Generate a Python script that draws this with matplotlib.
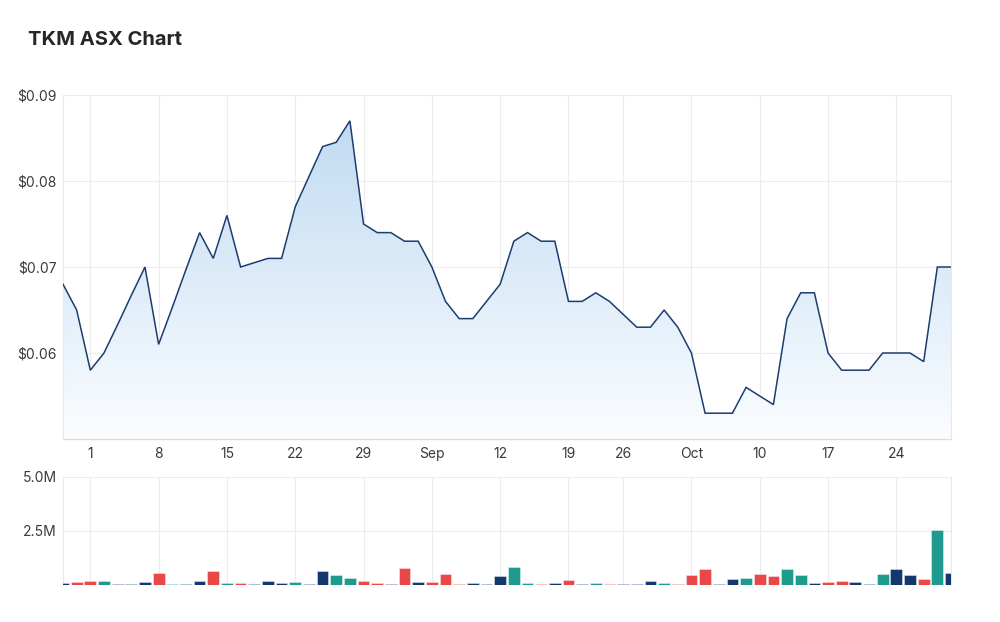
import numpy as np
import pandas as pd
import matplotlib
matplotlib.use("Agg")
import matplotlib.pyplot as plt
from matplotlib.colors import LinearSegmentedColormap

plt.rcParams['font.family'] = ['Inter', 'DejaVu Sans']

# ---- data ----
dates = pd.bdate_range('2022-07-28', '2022-10-28').drop(pd.Timestamp('2022-09-22'))

prices = [0.068, 0.065, 0.058, 0.060, 0.0633, 0.0667, 0.070, 0.061, 0.0653, 0.0697,
          0.074, 0.071, 0.076, 0.070, 0.0705, 0.071, 0.071, 0.077, 0.0805, 0.084,
          0.0845, 0.087, 0.075, 0.074, 0.074, 0.073, 0.073, 0.070, 0.066, 0.064,
          0.064, 0.066, 0.068, 0.073, 0.074, 0.073, 0.073, 0.066, 0.066, 0.067,
          0.066, 0.0645, 0.063, 0.063, 0.065, 0.063, 0.060, 0.053, 0.053, 0.053,
          0.056, 0.055, 0.054, 0.064, 0.067, 0.067, 0.060, 0.058, 0.058, 0.058,
          0.060, 0.060, 0.060, 0.059, 0.070, 0.070]

volumes_m = [0.09, 0.14, 0.20, 0.20, 0.03, 0.03, 0.14, 0.54, 0.03, 0.03,
             0.20, 0.65, 0.09, 0.09, 0.03, 0.20, 0.10, 0.14, 0.03, 0.65,
             0.45, 0.34, 0.20, 0.10, 0.04, 0.80, 0.14, 0.14, 0.50, 0.03,
             0.09, 0.04, 0.40, 0.83, 0.09, 0.03, 0.09, 0.25, 0.04, 0.09,
             0.04, 0.04, 0.04, 0.20, 0.09, 0.04, 0.45, 0.72, 0.04, 0.30,
             0.34, 0.50, 0.40, 0.72, 0.45, 0.09, 0.14, 0.18, 0.14, 0.04,
             0.50, 0.74, 0.45, 0.30, 2.53, 0.54]

volume_kind = list("nrrtnnnrtnnrtrnnntnnttrrnrnrrrnnnttrnrntrnnntrrrnntrrttnrrnntnnrtn")

tick_dates = ['2022-08-01', '2022-08-08', '2022-08-15', '2022-08-22', '2022-08-29',
              '2022-09-05', '2022-09-12', '2022-09-19', '2022-09-26', '2022-10-03',
              '2022-10-10', '2022-10-17', '2022-10-24']
tick_labels = ['1', '8', '15', '22', '29', 'Sep', '12', '19', '26', 'Oct', '10', '17', '24']

price_ticks = [0.06, 0.07, 0.08, 0.09]
price_tick_labels = ['$0.06', '$0.07', '$0.08', '$0.09']
vol_ticks = [2.5, 5.0]
vol_tick_labels = ['2.5M', '5.0M']

assert len(prices) == len(dates) == len(volumes_m) == len(volume_kind)

# ---- style ----
LINE = '#1d3d6e'
GRID = '#ececec'
TXT = '#3a3a3a'
KIND_COLORS = {'r': '#e84848', 't': '#1f9a8e', 'n': '#14386d'}

x = np.arange(len(dates))
tick_pos = dates.get_indexer(pd.to_datetime(tick_dates))

fig = plt.figure(figsize=(10, 6.22), dpi=100)
W, H = 1000, 622
ax = fig.add_axes([63 / W, 1 - 439 / H, (951 - 63) / W, (439 - 95) / H])
axv = fig.add_axes([63 / W, 1 - 585 / H, (951 - 63) / W, (585 - 477) / H])

# price panel
ax.set_xlim(0, len(dates) - 1)
ax.set_ylim(0.05, 0.09)
poly = ax.fill_between(x, prices, 0.05, color='none', lw=0)
cmap = LinearSegmentedColormap.from_list('g', ['#fbfdff', '#bcd8f1'])
grad = np.linspace(0, 1, 256).reshape(-1, 1)
im = ax.imshow(grad, extent=[0, len(dates) - 1, 0.05, 0.09], origin='lower',
               aspect='auto', cmap=cmap, zorder=1)
im.set_clip_path(poly.get_paths()[0], transform=ax.transData)
ax.plot(x, prices, color=LINE, lw=1.1, zorder=3, solid_joinstyle='miter')
ax.set_xlim(0, len(dates) - 1)
ax.set_ylim(0.05, 0.09)

ax.set_yticks(price_ticks)
ax.set_yticklabels(price_tick_labels)
ax.set_xticks(tick_pos)
ax.set_xticklabels(tick_labels)
ax.grid(True, color=GRID, lw=0.8, zorder=0)
ax.set_axisbelow(True)
ax.tick_params(length=0, labelsize=10, colors=TXT)
ax.tick_params(axis='y', pad=4.5)
ax.tick_params(axis='x', pad=6)
for s in ['left', 'right']:
    ax.spines[s].set_color('#e8e8e8')
    ax.spines[s].set_linewidth(0.8)
ax.spines['top'].set_visible(False)
ax.spines['bottom'].set_color('#dedede')
ax.spines['bottom'].set_linewidth(1.0)

# volume panel
cols = [KIND_COLORS[k] for k in volume_kind]
axv.bar(x, volumes_m, width=0.86, color=cols, edgecolor=(1, 1, 1, 0.45), linewidth=0.6, zorder=3)
axv.set_xlim(0, len(dates) - 1)
axv.set_ylim(0, 5.0)
axv.set_yticks(vol_ticks)
axv.set_yticklabels(vol_tick_labels)
axv.set_xticks(tick_pos)
axv.set_xticklabels([])
axv.grid(True, color=GRID, lw=0.8, zorder=0)
axv.set_axisbelow(True)
axv.tick_params(length=0, labelsize=10, colors=TXT)
axv.tick_params(axis='y', pad=4.5)
for s in ['left', 'right']:
    axv.spines[s].set_color('#e8e8e8')
    axv.spines[s].set_linewidth(0.8)
axv.spines['top'].set_visible(False)
axv.spines['bottom'].set_visible(False)

fig.text(28 / W, 1 - 40 / H, 'TKM ASX Chart', fontsize=14.5, fontweight='bold',
         color='#262626', va='center', ha='left')

fig.savefig('out.png', dpi=100, facecolor='white')
